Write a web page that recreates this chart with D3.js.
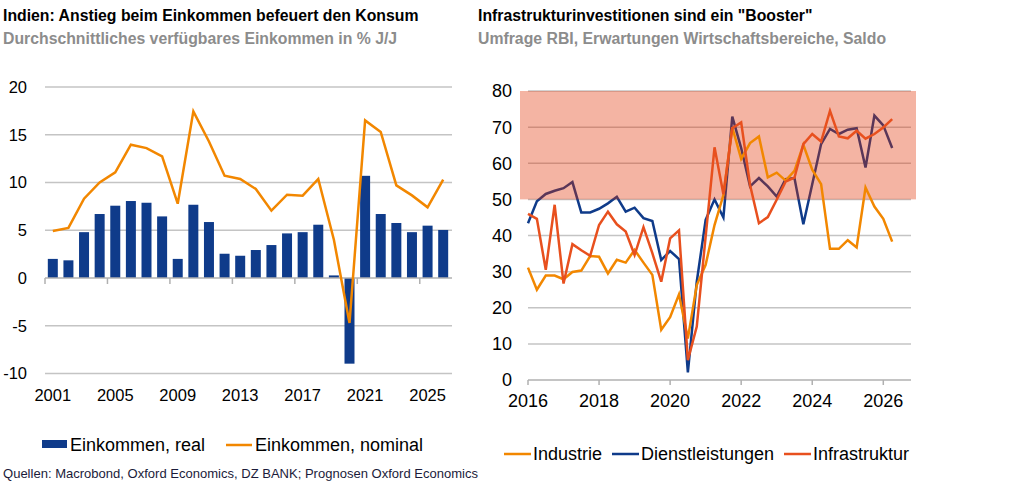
<!DOCTYPE html>
<html>
<head>
<meta charset="utf-8">
<title>Indien: Einkommen und Infrastruktur</title>
<style>
	body{
		margin:0;
		background:#fff;
	}
	svg text{
		font-family:"Liberation Sans", Arial, sans-serif;
	}
	.title{
		font-size:15.8px;
		font-weight:bold;
		fill:#000;
	}
	.sub{
		font-size:15.8px;
		font-weight:bold;
		fill:#8c8c8c;
	}
</style>
</head>
<body>
<svg id="chart" width="1031" height="493"></svg>
<script src="https://d3js.org/d3.v7.min.js"></script>
<script type="text/javascript">

// linke Grafik: Einkommen in % J/J
var years = [2001,2002,2003,2004,2005,2006,2007,2008,2009,2010,2011,2012,2013,
		2014,2015,2016,2017,2018,2019,2020,2021,2022,2023,2024,2025,2026],
	realIncome = [2.0,1.85,4.8,6.7,7.57,8.06,7.88,6.45,2.0,7.67,5.86,2.54,2.33,
		2.93,3.45,4.67,4.8,5.58,0.27,-8.97,10.7,6.7,5.76,4.8,5.48,5.03],
	nominalIncome = [4.92,5.24,8.3,10.0,11.06,13.96,13.6,12.73,7.78,17.45,14.3,10.71,10.37,
		9.32,7.05,8.72,8.62,10.37,4.0,-4.71,16.5,15.3,9.7,8.65,7.4,10.3],
	leftXTicks = [2001,2005,2009,2013,2017,2021,2025],
	leftYTicks = [-10,-5,0,5,10,15,20];

// rechte Grafik: Umfrage RBI, Saldo
var quarters = ["2016Q1","2016Q2","2016Q3","2016Q4","2017Q1","2017Q2","2017Q3","2017Q4",
		"2018Q1","2018Q2","2018Q3","2018Q4","2019Q1","2019Q2","2019Q3","2019Q4",
		"2020Q1","2020Q2","2020Q3","2020Q4","2021Q1","2021Q2","2021Q3","2021Q4",
		"2022Q1","2022Q2","2022Q3","2022Q4","2023Q1","2023Q2","2023Q3","2023Q4",
		"2024Q1","2024Q2","2024Q3","2024Q4","2025Q1","2025Q2","2025Q3","2025Q4",
		"2026Q1","2026Q2"],
	industrie = [31.1,25.0,28.9,28.9,27.9,29.9,30.3,34.3,34.1,29.5,33.3,32.5,36.0,32.5,29.1,13.9,
		17.4,23.7,11.5,26.3,31.9,42.9,51.2,69.9,61.2,65.6,67.4,56.1,57.4,55.2,57.9,65.1,
		58.2,54.2,36.3,36.3,38.7,36.7,53.3,48.0,44.6,38.3],
	dienstleistungen = [43.4,49.5,51.5,52.4,53.1,54.8,46.4,46.4,47.4,48.9,50.7,46.6,47.7,44.8,44.0,33.2,
		35.7,33.5,2.1,27.2,44.3,50.0,45.0,72.9,64.2,53.6,55.9,53.6,50.8,55.6,55.9,43.1,
		54.2,65.3,69.5,68.1,69.3,69.7,58.8,73.2,70.5,64.2],
	infrastruktur = [46.0,44.6,30.5,48.5,26.7,37.6,35.9,34.4,42.9,46.6,43.1,41.1,34.6,42.3,35.1,27.2,
		39.2,41.4,5.5,14.8,39.7,64.4,51.4,69.7,71.3,54.0,43.4,45.1,49.9,54.9,56.0,65.3,
		68.1,66.0,74.5,67.4,66.9,69.0,66.8,68.1,69.9,72.2],
	boosterZone = [50,80],
	rightXTicks = [2016,2018,2020,2022,2024,2026],
	rightYTicks = [0,10,20,30,40,50,60,70,80];

var blue = '#0f3b8a',
	orange = '#f28700',
	red = '#e8501e',
	grid = '#c4c4c4';

var svg = d3.select('#chart');

// ---------- Titel ----------
svg.append('text').attr('class','title').attr('x',3).attr('y',21).text('Indien: Anstieg beim Einkommen befeuert den Konsum');
svg.append('text').attr('class','sub').attr('x',3).attr('y',44).text('Durchschnittliches verfügbares Einkommen in % J/J');
svg.append('text').attr('class','title').attr('x',478).attr('y',21).text('Infrastrukturinvestitionen sind ein "Booster"');
svg.append('text').attr('class','sub').attr('x',478).attr('y',44).text('Umfrage RBI, Erwartungen Wirtschaftsbereiche, Saldo');

// ---------- linke Grafik ----------
var xL = d3.scaleBand().domain(years).range([45,451]).paddingInner(0.36).paddingOuter(0.18),
	yL = d3.scaleLinear().domain([-10,20]).range([373.5,87]),
	bw = xL.bandwidth(),
	edge = function(y){ return xL(y) - xL.step()*xL.paddingInner()/2; };

var left = svg.append('g');

left.selectAll('line.grid')
	.data(leftYTicks.filter(function(d){ return d != 0; }))
	.enter().append('line')
	.attr('class','grid')
	.attr('x1',45).attr('x2',452)
	.attr('y1',function(d){ return yL(d); }).attr('y2',function(d){ return yL(d); })
	.style('stroke',grid).style('stroke-width',1.5);

left.selectAll('text.ylab')
	.data(leftYTicks)
	.enter().append('text')
	.attr('class','ylab')
	.attr('x',27).attr('y',function(d){ return yL(d); })
	.attr('dy','0.36em')
	.attr('text-anchor','end')
	.style('font-size','16.5px')
	.text(function(d){ return d; });

left.selectAll('rect.bar')
	.data(years.map(function(y,i){ return {year:y, v:realIncome[i]}; }))
	.enter().append('rect')
	.attr('class','bar')
	.attr('x',function(d){ return xL(d.year); })
	.attr('width',bw)
	.attr('y',function(d){ return yL(Math.max(0,d.v)); })
	.attr('height',function(d){ return Math.abs(yL(d.v)-yL(0)); })
	.style('fill',blue);

// Nulllinie mit Ticks
left.append('line')
	.attr('x1',45).attr('x2',452)
	.attr('y1',yL(0)).attr('y2',yL(0))
	.style('stroke','#b0b0b0').style('stroke-width',1.5);

left.selectAll('line.tick')
	.data(leftXTicks)
	.enter().append('line')
	.attr('class','tick')
	.attr('x1',function(d){ return edge(d); }).attr('x2',function(d){ return edge(d); })
	.attr('y1',yL(0)).attr('y2',yL(0)+6)
	.style('stroke','#b0b0b0').style('stroke-width',1.5);

left.append('path')
	.datum(years.map(function(y,i){ return {year:y, v:nominalIncome[i]}; }))
	.attr('d',d3.line()
		.x(function(d){ return xL(d.year)+bw/2; })
		.y(function(d){ return yL(d.v); }))
	.style('fill','none').style('stroke',orange).style('stroke-width',2.5);

left.selectAll('text.xlab')
	.data(leftXTicks)
	.enter().append('text')
	.attr('class','xlab')
	.attr('x',function(d){ return xL(d)+bw/2; })
	.attr('y',401)
	.attr('text-anchor','middle')
	.style('font-size','16.5px')
	.text(function(d){ return d; });

// Legende links
left.append('rect').attr('x',42).attr('y',440).attr('width',25).attr('height',8).style('fill',blue);
left.append('text').attr('x',70).attr('y',451).style('font-size','18px').text('Einkommen, real');
left.append('line').attr('x1',226).attr('x2',252).attr('y1',445).attr('y2',445).style('stroke',orange).style('stroke-width',2.5);
left.append('text').attr('x',255).attr('y',451).style('font-size','18px').text('Einkommen, nominal');

svg.append('text')
	.attr('x',3).attr('y',478)
	.attr('textLength',475).attr('lengthAdjust','spacingAndGlyphs')
	.style('font-size','13.5px').style('fill','#1b1b3a')
	.text('Quellen: Macrobond, Oxford Economics, DZ BANK; Prognosen Oxford Economics');

// ---------- rechte Grafik ----------
var xR = d3.scaleLinear().domain([2016,2026.78]).range([528,911]),
	yR = d3.scaleLinear().domain([0,80]).range([380,91]),
	qYear = function(q){ return +q.slice(0,4) + (+q.slice(5)-1)/4; },
	lineR = d3.line()
		.x(function(d){ return xR(d.t); })
		.y(function(d){ return yR(d.v); });

function series(values){
	return quarters.map(function(q,i){ return {t:qYear(q), v:values[i]}; });
}

var right = svg.append('g');

right.selectAll('line.grid')
	.data(rightYTicks.filter(function(d){ return d != 0; }))
	.enter().append('line')
	.attr('class','grid')
	.attr('x1',528).attr('x2',911)
	.attr('y1',function(d){ return yR(d); }).attr('y2',function(d){ return yR(d); })
	.style('stroke',grid).style('stroke-width',1.5);

right.append('path')
	.datum(series(dienstleistungen))
	.attr('d',lineR)
	.style('fill','none').style('stroke',blue).style('stroke-width',2.5);

// Booster-Zone, halbtransparent
right.append('rect')
	.attr('x',520).attr('width',396)
	.attr('y',yR(boosterZone[1])).attr('height',yR(boosterZone[0])-yR(boosterZone[1]))
	.style('fill','rgb(224,47,0)').style('opacity',0.36);

right.append('path')
	.datum(series(industrie))
	.attr('d',lineR)
	.style('fill','none').style('stroke',orange).style('stroke-width',2.5);

right.append('path')
	.datum(series(infrastruktur))
	.attr('d',lineR)
	.style('fill','none').style('stroke',red).style('stroke-width',2.5);

right.append('line')
	.attr('x1',528).attr('x2',911)
	.attr('y1',yR(0)).attr('y2',yR(0))
	.style('stroke','#b0b0b0').style('stroke-width',1.5);

right.selectAll('line.tick')
	.data(rightXTicks)
	.enter().append('line')
	.attr('class','tick')
	.attr('x1',function(d){ return xR(d); }).attr('x2',function(d){ return xR(d); })
	.attr('y1',yR(0)).attr('y2',yR(0)+5)
	.style('stroke','#b0b0b0').style('stroke-width',1.5);

right.selectAll('text.ylab')
	.data(rightYTicks)
	.enter().append('text')
	.attr('class','ylab')
	.attr('x',512).attr('y',function(d){ return yR(d); })
	.attr('dy','0.36em')
	.attr('text-anchor','end')
	.style('font-size','18px')
	.text(function(d){ return d; });

right.selectAll('text.xlab')
	.data(rightXTicks)
	.enter().append('text')
	.attr('class','xlab')
	.attr('x',function(d){ return xR(d); })
	.attr('y',407)
	.attr('text-anchor','middle')
	.style('font-size','18px')
	.text(function(d){ return d; });

// Legende rechts
var legendR = [
	{name:'Industrie', color:orange, x:504},
	{name:'Dienstleistungen', color:blue, x:612},
	{name:'Infrastruktur', color:red, x:784}
];
legendR.forEach(function(l){
	right.append('line').attr('x1',l.x).attr('x2',l.x+27).attr('y1',454).attr('y2',454)
		.style('stroke',l.color).style('stroke-width',2.5);
	right.append('text').attr('x',l.x+29).attr('y',460).style('font-size','18px').text(l.name);
});

</script>
</body>
</html>
